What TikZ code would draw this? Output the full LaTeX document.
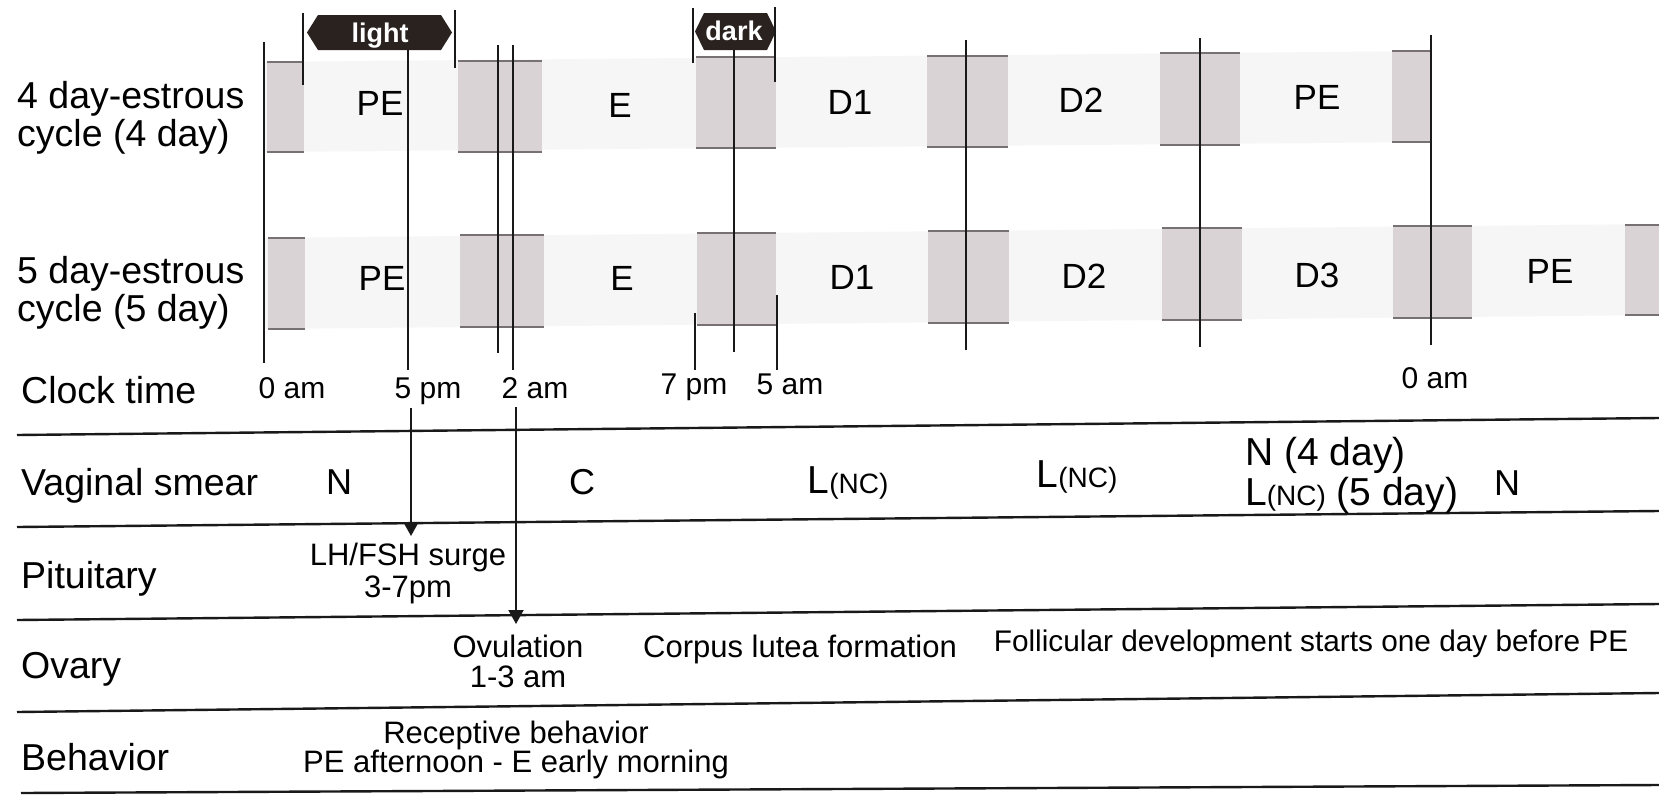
\documentclass[tikz,border=0pt]{standalone}
\usepackage{fontspec}
\setmainfont{Liberation Sans}
\usetikzlibrary{arrows.meta}

\definecolor{boxfill}{RGB}{217,211,213}
\definecolor{boxedge}{RGB}{120,113,115}
\definecolor{bandfill}{RGB}{247,246,246}
\definecolor{hexfill}{RGB}{42,34,31}
\definecolor{ink}{RGB}{25,25,25}

\newcommand{\fsz}[2]{\fontsize{#1}{#2}\selectfont}
\newcommand{\nc}{{\fsz{28}{28}(NC)}}

\begin{document}
\begin{tikzpicture}[x=1pt,y=-1pt,
  lab/.style={inner sep=0, anchor=base west, font=\fsz{37.5}{38}},
  phase/.style={inner sep=0, anchor=base, font=\fsz{35}{35}},
  clk/.style={inner sep=0, anchor=base, font=\fsz{30}{30}},
  smear/.style={inner sep=0, anchor=base, font=\fsz{39}{39}},
  note/.style={inner sep=0, anchor=base, font=\fsz{31}{31}},
  flag/.style={inner sep=0, anchor=base, text=white, font=\fsz{27}{27}\bfseries},
  tick/.style={draw=ink, line width=2pt},
  rule/.style={draw=ink, line width=2.4pt},
  arr/.style={draw=ink, line width=2pt, -{Triangle[width=15pt,length=14pt]}},
  estr/.style={fill=boxfill},
  edge/.style={draw=boxedge, line width=1.2pt}
]
\useasboundingbox (0,0) rectangle (1659,795);
\fill[white] (0,0) rectangle (1659,795);

% faint bands behind the two cycle rows
\fill[bandfill] (264,62) -- (1431,51) -- (1431,142) -- (264,152) -- cycle;
\fill[bandfill] (264,238) -- (1659,224) -- (1659,315) -- (264,329) -- cycle;

% grey blocks: 4 day cycle
\foreach \xa/\xb/\ya/\yb in {267/304/62/152, 458/542/61/152, 696/776/57/148,
                            927/1008/56/147, 1160/1240/53/145, 1392/1431/51/142}{
  \fill[estr] (\xa,\ya) rectangle (\xb,\yb);
  \draw[edge] (\xa,\ya) -- (\xb,\ya) (\xa,\yb) -- (\xb,\yb);
}
% grey blocks: 5 day cycle
\foreach \xa/\xb/\ya/\yb in {268/305/238/329, 460/544/235/327, 697/776/233/325,
                            928/1009/231/323, 1162/1242/228/320, 1393/1472/226/318,
                            1625/1659/225/315}{
  \fill[estr] (\xa,\ya) rectangle (\xb,\yb);
  \draw[edge] (\xa,\ya) -- (\xb,\ya) (\xa,\yb) -- (\xb,\yb);
}

% light / dark flags
\fill[hexfill] (307,32.5) -- (318,15) -- (441,15) -- (452,32.5) -- (441,50) -- (318,50) -- cycle;
\node[flag] (light) at (380,42) {light};
\fill[hexfill] (695,31.5) -- (704,13) -- (767,13) -- (776,31.5) -- (767,50) -- (704,50) -- cycle;
\node[flag] (dark) at (734,40) {dark};

% time markers
\draw[tick] (264,42) -- (264,363);
\draw[tick] (303,13) -- (303,85);
\draw[tick] (455,10) -- (455,68);
\draw[tick] (408,50) -- (408,370);
\draw[tick] (498,45) -- (498,353);
\draw[tick] (513,45) -- (513,370);
\draw[tick] (693,8) -- (693,63);
\draw[tick] (775,7) -- (775,82);
\draw[tick] (734,50) -- (734,352);
\draw[tick] (695,313) -- (695,370);
\draw[tick] (777,295) -- (777,370);
\draw[tick] (966,40) -- (966,350);
\draw[tick] (1200,38) -- (1200,347);
\draw[tick] (1431,35) -- (1431,345);

% row labels
\node[lab] (l4a) at (17,108) {4 day-estrous};
\node[lab] (l4b) at (17,146) {cycle (4 day)};
\node[lab] (l5a) at (17,283) {5 day-estrous};
\node[lab] (l5b) at (17,321) {cycle (5 day)};
\node[lab] (lclk) at (21,403) {Clock time};
\node[lab] (lvag) at (21,495) {Vaginal smear};
\node[lab] (lpit) at (21,588) {Pituitary};
\node[lab] (lova) at (21,678) {Ovary};
\node[lab] (lbeh) at (21,770) {Behavior};

% phases of the 4 day cycle
\node[phase] (p4a) at (380,115) {PE};
\node[phase] (p4b) at (620,117) {E};
\node[phase] (p4c) at (850,114) {D1};
\node[phase] (p4d) at (1081,112) {D2};
\node[phase] (p4e) at (1317,109) {PE};
% phases of the 5 day cycle
\node[phase] (p5a) at (382,290) {PE};
\node[phase] (p5b) at (622,290) {E};
\node[phase] (p5c) at (852,289) {D1};
\node[phase] (p5d) at (1084,288) {D2};
\node[phase] (p5e) at (1317,287) {D3};
\node[phase] (p5f) at (1550,283) {PE};

% clock times
\node[clk] (t0) at (292,398) {0 am};
\node[clk] (t5p) at (428,398) {5 pm};
\node[clk] (t2a) at (535,398) {2 am};
\node[clk] (t7p) at (694,394) {7 pm};
\node[clk] (t5a) at (790,394) {5 am};
\node[clk] (t0b) at (1435,388) {0 am};

% table rules
\draw[rule] (17,435) -- (1659,418);
\draw[rule] (17,527) -- (1659,511);
\draw[rule] (17,620) -- (1659,604);
\draw[rule] (17,712) -- (1659,693);
\draw[rule] (21,793) -- (1659,785);

% vaginal smear
\node[smear, font=\fsz{36}{36}] (sN) at (339,494) {N};
\node[smear, font=\fsz{36}{36}] (sC) at (582,494) {C};
\node[smear] (sL1) at (848,493) {L\nc};
\node[smear] (sL2) at (1077,487) {L\nc};
\node[smear, anchor=base west] (sN4) at (1245,465) {N (4 day)};
\node[smear, anchor=base west] (sL5) at (1245,505) {L\nc{} (5 day)};
\node[smear, font=\fsz{36}{36}] (sN2) at (1507,495) {N};

% pituitary, ovary, behaviour
\node[note] (surge) at (408,565) {LH/FSH surge};
\node[note] (surget) at (408,597) {3-7pm};
\node[note] (ovul) at (518,657) {Ovulation};
\node[note] (ovult) at (518,687) {1-3 am};
\node[note] (corp) at (800,657) {Corpus lutea formation};
\node[note, font=\fsz{29.8}{30}] (foll) at (1311,651) {Follicular development starts one day before PE};
\node[note] (rec) at (516,743) {Receptive behavior};
\node[note] (rect) at (516,772) {PE afternoon - E early morning};

% arrows from clock times down the table
\coordinate (a5s) at (411,408);
\coordinate (a5e) at (411,536);
\coordinate (a2s) at (516,407);
\coordinate (a2e) at (516,624);
\draw[arr] (a5s) -- (a5e);
\draw[arr] (a2s) -- (a2e);
\end{tikzpicture}
\end{document}
